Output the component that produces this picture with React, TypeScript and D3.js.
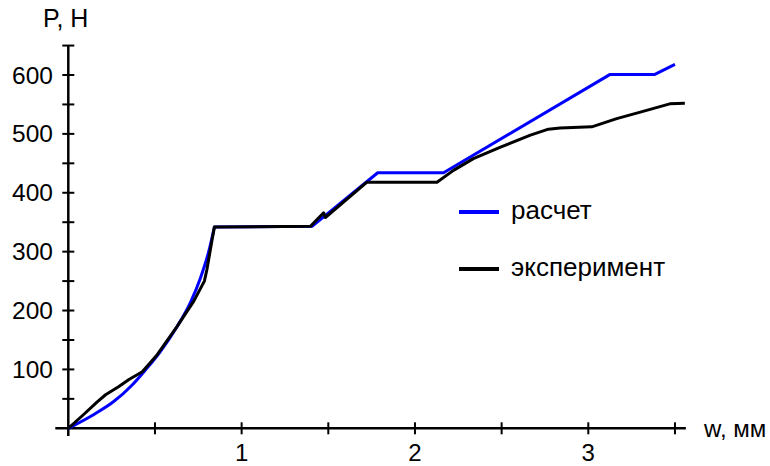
import React from "react";
import { scaleLinear, line, range, curveMonotoneX } from "d3";

// расчет (calculated)
const calcW = [0, 0.15, 0.26, 0.37, 0.445, 0.53, 0.628, 0.705, 0.762, 0.81, 0.843, 1.406, 1.785, 2.165, 3.126, 3.384, 3.5];
const calcP = [0, 24, 45, 74, 99, 130, 173, 214, 255, 300, 342, 343, 434, 434, 601, 601, 618];
const calcCurveEnd = 10; // smooth loading branch up to the first plateau

// эксперимент (experiment)
const expW = [0, 0.087, 0.167, 0.215, 0.292, 0.35, 0.427, 0.513, 0.628, 0.724, 0.785, 0.8, 0.83, 0.843, 1.397, 1.473, 1.483, 1.723, 2.127, 2.222, 2.337, 2.49, 2.666, 2.77, 2.837, 3.02, 3.164, 3.3, 3.47, 3.557];
const expP = [0, 23, 45, 57, 71, 83, 96, 125, 173, 216, 250, 270, 321, 342, 343, 366, 358, 418, 418, 438, 458, 477, 498, 508, 510, 512, 526, 537, 551, 552];

const xTickLabels = [1, 2, 3];
const yTickLabels = [100, 200, 300, 400, 500, 600];

const W = 770;
const H = 466;
const font = "'Liberation Sans', Arial, sans-serif";

export default function App() {
  const x = scaleLinear().domain([0, 3]).range([68.3, 588.3]);
  const y = scaleLinear().domain([0, 600]).range([428.3, 75]);

  const xMinorTicks = range(0.5, 3.51, 0.5);
  const yMinorTicks = range(50, 651, 50);

  const calc = calcW.map((w, i) => [w, calcP[i]] as [number, number]);
  const exp = expW.map((w, i) => [w, expP[i]] as [number, number]);
  const path = line<[number, number]>()
    .x((d) => x(d[0]))
    .y((d) => y(d[1]));
  const smooth = line<[number, number]>()
    .x((d) => x(d[0]))
    .y((d) => y(d[1]))
    .curve(curveMonotoneX);

  const calcD =
    (smooth(calc.slice(0, calcCurveEnd + 1)) ?? "") +
    (path(calc.slice(calcCurveEnd)) ?? "").replace(/^M/, "L");

  const x0 = x(0);
  const y0 = y(0);

  return (
    <svg
      width={W}
      height={H}
      style={{ position: "absolute", left: 0, top: 0, background: "#fff" }}
      fontFamily={font}
    >
      {/* axes */}
      <line x1={x0 - 13} x2={x(3.563)} y1={y0} y2={y0} stroke="#000" strokeWidth={2.5} />
      <line x1={x0} x2={x0} y1={y(-13)} y2={y(650)} stroke="#000" strokeWidth={2.5} />
      {xMinorTicks.map((t) => (
        <line key={"xt" + t} x1={x(t)} x2={x(t)} y1={y0 - 6} y2={y0 + 6} stroke="#000" strokeWidth={2} />
      ))}
      {yMinorTicks.map((t) => (
        <line key={"yt" + t} x1={x0 - 6} x2={x0 + 6} y1={y(t)} y2={y(t)} stroke="#000" strokeWidth={2} />
      ))}
      {xTickLabels.map((t) => (
        <text key={"xl" + t} x={x(t)} y={461} fontSize={24} textAnchor="middle" fill="#000">
          {t}
        </text>
      ))}
      {yTickLabels.map((t) => (
        <text key={"yl" + t} x={53} y={y(t)} dy="0.35em" fontSize={24.5} textAnchor="end" fill="#000">
          {t}
        </text>
      ))}
      <text x={43} y={27} fontSize={25} fill="#000">
        P, Н
      </text>
      <text x={704} y={437} fontSize={24} fill="#000">
        w, мм
      </text>

      {/* series */}
      <path d={calcD} fill="none" stroke="#0000ff" strokeWidth={3} strokeLinejoin="round" />
      <path d={path(exp) ?? ""} fill="none" stroke="#000" strokeWidth={3} strokeLinejoin="round" />

      {/* legend */}
      <line x1={459} x2={499} y1={212} y2={212} stroke="#0000ff" strokeWidth={4} />
      <text x={511} y={219} fontSize={26} fill="#000">
        расчет
      </text>
      <line x1={459} x2={499} y1={269} y2={269} stroke="#000" strokeWidth={4} />
      <text x={511} y={276} fontSize={26} fill="#000">
        эксперимент
      </text>
    </svg>
  );
}
